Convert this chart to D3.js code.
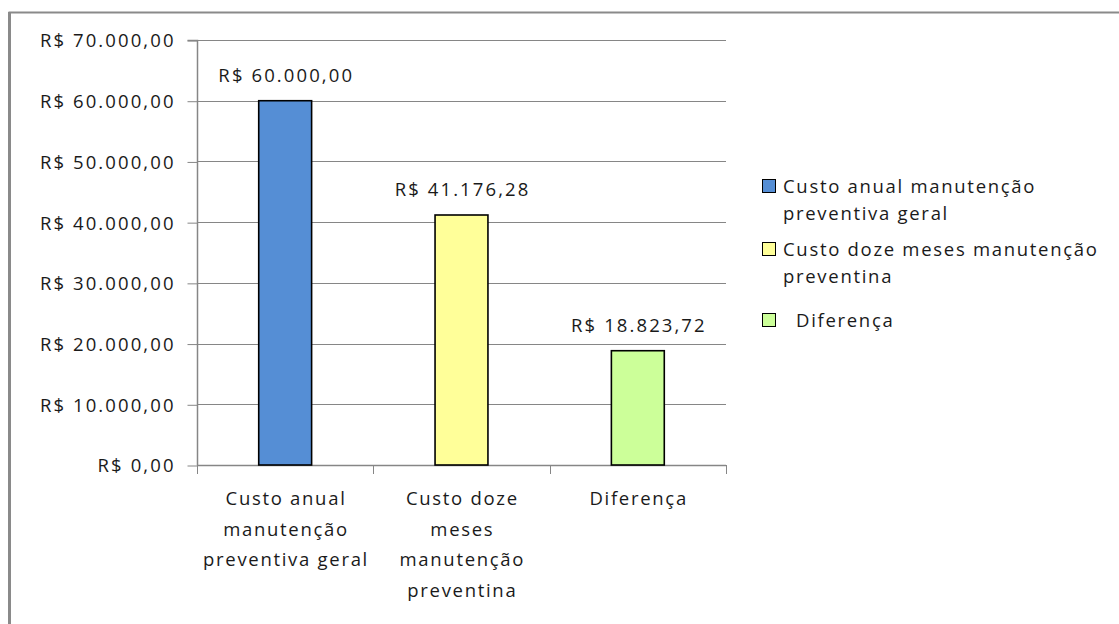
<!DOCTYPE html>
<html>
<head>
<meta charset="utf-8">
<script src="https://cdn.jsdelivr.net/npm/d3@7"></script>
<style>
  html, body { margin: 0; padding: 0; background: #fff; }
  svg text { font-family: "Open Sans", "Lato", sans-serif; fill: #1a1a1a; letter-spacing: 1.7px; }
</style>
</head>
<body>
<svg id="chart" width="1119" height="624"></svg>
<script>
// Cost comparison: annual general preventive maintenance vs. twelve-month preventive maintenance
const categories = [
  ["Custo anual", "manutenção", "preventiva geral"],
  ["Custo doze", "meses", "manutenção", "preventina"],
  ["Diferença"]
];
const seriesNames = [
  ["Custo anual manutenção", "preventiva geral"],
  ["Custo doze meses manutenção", "preventina"],
  ["  Diferença"]
];
const values = [60000.00, 41176.28, 18823.72];
const valueLabels = ["R$ 60.000,00", "R$ 41.176,28", "R$ 18.823,72"];
const colors = ["#558ED5", "#FFFF99", "#CCFF99"];
const yTicks = [0, 10000, 20000, 30000, 40000, 50000, 60000, 70000];
const yTickLabels = ["R$ 0,00", "R$ 10.000,00", "R$ 20.000,00", "R$ 30.000,00",
                     "R$ 40.000,00", "R$ 50.000,00", "R$ 60.000,00", "R$ 70.000,00"];

const svg = d3.select("#chart");
const fontSize = 18.5;
const ls = 1.7; // letter spacing, compensated when centring
const numLs = 2.1; // slightly wider spacing for currency figures

// outer frame of the chart area
svg.append("rect")
  .attr("x", 9.5).attr("y", 12.5)
  .attr("width", 1200).attr("height", 700)
  .attr("fill", "none").attr("stroke", "#8a8a8a").attr("stroke-width", 2);
svg.append("line")
  .attr("x1", 9.5).attr("x2", 9.5).attr("y1", 12).attr("y2", 624)
  .attr("stroke", "#8a8a8a").attr("stroke-width", 3);

const plot = { left: 197, right: 726, top: 40, bottom: 465 };

const x = d3.scaleBand()
  .domain(d3.range(values.length))
  .range([plot.left, plot.right])
  .paddingInner(0.7).paddingOuter(0.35);

const y = d3.scaleLinear().domain([0, 70000]).range([plot.bottom, plot.top]);

// gridlines
svg.append("g")
  .selectAll("line")
  .data(yTicks.filter(d => d > 0))
  .join("line")
  .attr("x1", plot.left).attr("x2", plot.right)
  .attr("y1", d => Math.round(y(d)) + 0.5).attr("y2", d => Math.round(y(d)) + 0.5)
  .attr("stroke", "#868686").attr("stroke-width", 1);

// y axis
const yAxis = d3.axisLeft(y)
  .tickValues(yTicks)
  .tickFormat((d, i) => yTickLabels[i])
  .tickSize(10)
  .tickPadding(14 - numLs);
const gy = svg.append("g")
  .attr("transform", `translate(${plot.left + 0.5},0.5)`)
  .call(yAxis);
gy.select(".domain").attr("stroke", "#868686").attr("stroke-width", 1.5)
  .attr("d", `M-10,${y(70000)}H0V${y(0)}`);
gy.selectAll(".tick line").attr("stroke", "#868686");
gy.selectAll(".tick text")
  .attr("font-size", fontSize)
  .style("font-family", "'Open Sans', Lato, sans-serif")
  .style("letter-spacing", numLs + "px")
  .attr("fill", "#1a1a1a")
  .attr("dy", "0.35em");

// x axis line and category dividers
svg.append("line")
  .attr("x1", plot.left).attr("x2", plot.right)
  .attr("y1", plot.bottom + 0.5).attr("y2", plot.bottom + 0.5)
  .attr("stroke", "#868686").attr("stroke-width", 1.5);
const step = (plot.right - plot.left) / values.length;
svg.append("g").selectAll("line")
  .data(d3.range(values.length + 1))
  .join("line")
  .attr("x1", i => Math.round(plot.left + i * step) + 0.5)
  .attr("x2", i => Math.round(plot.left + i * step) + 0.5)
  .attr("y1", plot.bottom).attr("y2", plot.bottom + 9)
  .attr("stroke", "#868686").attr("stroke-width", 1);

// bars
svg.append("g").selectAll("rect")
  .data(values)
  .join("rect")
  .attr("x", (d, i) => x(i))
  .attr("y", d => y(d))
  .attr("width", x.bandwidth())
  .attr("height", d => y(0) - y(d))
  .attr("fill", (d, i) => colors[i])
  .attr("stroke", "#000").attr("stroke-width", 1.6);

// value labels
svg.append("g").selectAll("text")
  .data(values)
  .join("text")
  .attr("x", (d, i) => x(i) + x.bandwidth() / 2 + numLs / 2)
  .attr("y", d => y(d) - 19)
  .attr("text-anchor", "middle")
  .attr("font-size", fontSize)
  .style("letter-spacing", numLs + "px")
  .text((d, i) => valueLabels[i]);

// category labels
const catG = svg.append("g");
categories.forEach((lines, i) => {
  const t = catG.append("text")
    .attr("text-anchor", "middle")
    .attr("font-size", fontSize);
  lines.forEach((line, j) => {
    t.append("tspan")
      .attr("x", x(i) + x.bandwidth() / 2 + ls / 2)
      .attr("y", 505 + j * 30.5)
      .text(line);
  });
});

// legend
const legend = svg.append("g");
const legendY = [186, 249, 320];
seriesNames.forEach((lines, i) => {
  legend.append("rect")
    .attr("x", 762.5).attr("y", legendY[i] - 6.5)
    .attr("width", 13).attr("height", 13)
    .attr("fill", colors[i]).attr("stroke", "#000").attr("stroke-width", 1);
  const t = legend.append("text")
    .attr("font-size", fontSize)
    .attr("xml:space", "preserve")
    .style("white-space", "pre");
  lines.forEach((line, j) => {
    t.append("tspan")
      .attr("x", 783)
      .attr("y", legendY[i] + 7 + j * 27)
      .text(line);
  });
});
</script>
</body>
</html>
